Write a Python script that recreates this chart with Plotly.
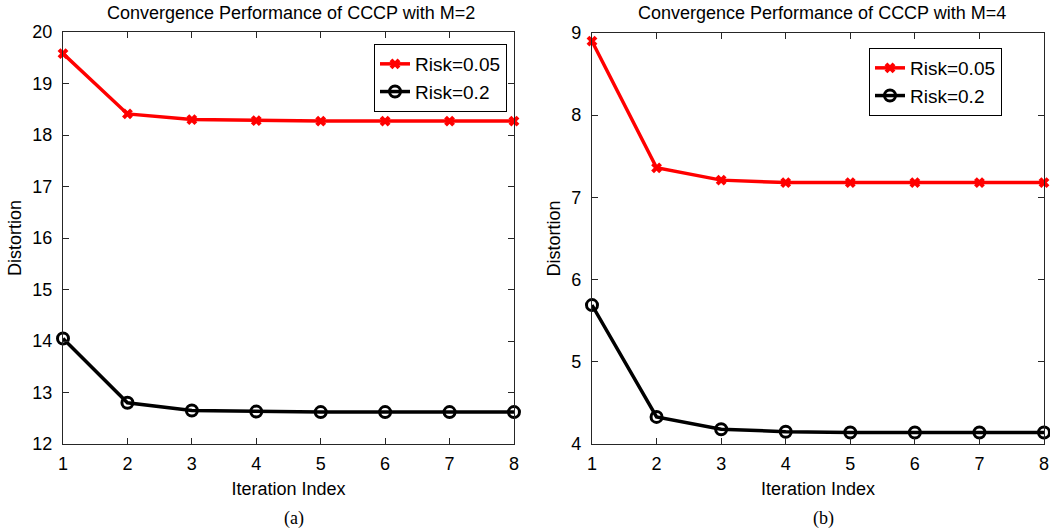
import plotly.graph_objects as go

iters = [1, 2, 3, 4, 5, 6, 7, 8]
m2_risk005 = [19.58, 18.41, 18.30, 18.28, 18.27, 18.27, 18.27, 18.27]
m2_risk02 = [14.05, 12.80, 12.65, 12.63, 12.62, 12.62, 12.62, 12.62]
m4_risk005 = [8.90, 7.36, 7.21, 7.18, 7.18, 7.18, 7.18, 7.18]
m4_risk02 = [5.69, 4.33, 4.18, 4.15, 4.14, 4.14, 4.14, 4.14]

titles = ["Convergence Performance of CCCP with M=2", "Convergence Performance of CCCP with M=4"]
captions = ["(a)", "(b)"]
names = ["Risk=0.05", "Risk=0.2"]

FONT = "Liberation Sans, Arial, sans-serif"
SERIF = "Liberation Serif, Times New Roman, serif"
fig = go.Figure()

red_style = dict(mode="lines+markers", line=dict(color="#ff0000", width=3.5),
                 marker=dict(symbol="x-thin", size=8, line=dict(color="#ff0000", width=4)),
                 cliponaxis=False)
blk_style = dict(mode="lines+markers", line=dict(color="#000000", width=3.5),
                 marker=dict(symbol="circle-open", size=11, color="#000000", line=dict(color="#000000", width=3)),
                 cliponaxis=False)

fig.add_trace(go.Scatter(x=iters, y=m2_risk005, name=names[0], xaxis="x", yaxis="y", legend="legend", **red_style))
fig.add_trace(go.Scatter(x=iters, y=m2_risk02, name=names[1], xaxis="x", yaxis="y", legend="legend", **blk_style))
fig.add_trace(go.Scatter(x=iters, y=m4_risk005, name=names[0], xaxis="x2", yaxis="y2", legend="legend2", **red_style))
fig.add_trace(go.Scatter(x=iters, y=m4_risk02, name=names[1], xaxis="x2", yaxis="y2", legend="legend2", **blk_style))

axcommon = dict(showgrid=False, zeroline=False, showline=True, linecolor="#262626", linewidth=1,
                mirror="ticks", ticks="inside", ticklen=6, tickcolor="#262626", automargin=False,
                tickfont=dict(family=FONT, size=18, color="#000"))

xtitle = dict(text="Iteration Index", font=dict(family=FONT, size=18), standoff=9)
ytitle = dict(text="Distortion", font=dict(family=FONT, size=18), standoff=6)

fig.update_layout(
    width=1050, height=531, margin=dict(l=0, r=0, t=0, b=0, autoexpand=False),
    paper_bgcolor="white", plot_bgcolor="white",
    font=dict(family=FONT, color="#000"),
    xaxis=dict(domain=[0.0600, 0.4895], range=[1, 8], dtick=1, anchor="y",
               title=xtitle, ticklabelstandoff=3, **axcommon),
    yaxis=dict(domain=[0.1638, 0.9397], range=[12, 20], dtick=1, anchor="x",
               title=ytitle, ticklabelstandoff=6, **axcommon),
    xaxis2=dict(domain=[0.5638, 1044 / 1050], range=[1, 8], dtick=1, anchor="y2",
                title=xtitle, ticklabelstandoff=3, **axcommon),
    yaxis2=dict(domain=[0.1638, 0.9379], range=[4, 9], dtick=1, anchor="x2",
                title=ytitle, ticklabelstandoff=6, **axcommon),
    legend=dict(x=507 / 1050, y=1 - 44 / 531, xanchor="right", yanchor="top", bordercolor="#000", borderwidth=1,
                bgcolor="white", font=dict(family=FONT, size=19), tracegroupgap=0, itemwidth=30),
    legend2=dict(x=1002 / 1050, y=1 - 48 / 531, xanchor="right", yanchor="top", bordercolor="#000", borderwidth=1,
                 bgcolor="white", font=dict(family=FONT, size=19), tracegroupgap=0, itemwidth=30),
    showlegend=True,
)

fig.add_annotation(text=titles[0], x=291 / 1050, y=1 - 13 / 531, xref="paper", yref="paper",
                   showarrow=False, font=dict(family=FONT, size=18), xanchor="center", yanchor="middle")
fig.add_annotation(text=titles[1], x=822 / 1050, y=1 - 13 / 531, xref="paper", yref="paper",
                   showarrow=False, font=dict(family=FONT, size=18), xanchor="center", yanchor="middle")
fig.add_annotation(text=captions[0], x=294 / 1050, y=1 - 518 / 531, xref="paper", yref="paper",
                   showarrow=False, font=dict(family=SERIF, size=18), xanchor="center", yanchor="middle")
fig.add_annotation(text=captions[1], x=823 / 1050, y=1 - 518 / 531, xref="paper", yref="paper",
                   showarrow=False, font=dict(family=SERIF, size=18), xanchor="center", yanchor="middle")

fig.write_html("out.html")
